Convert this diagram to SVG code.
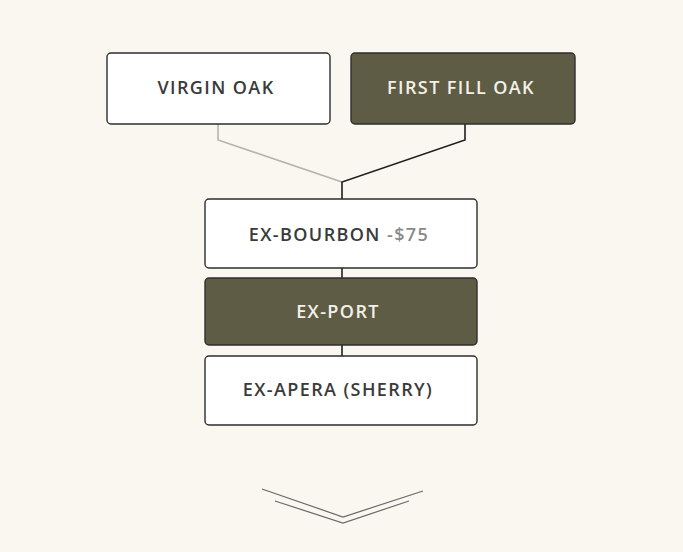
<svg xmlns="http://www.w3.org/2000/svg" width="683" height="552" viewBox="0 0 683 552">
<style>
.box{stroke:#2e2e2e;stroke-width:1.4}
.light{fill:#ffffff}
.dark{fill:#5f5c45}
.t{font-family:"Open Sans","Liberation Sans",sans-serif;font-weight:600;font-size:18px;letter-spacing:1.4px;text-anchor:middle;dominant-baseline:central}
.tl{fill:#3a3a3a}
.td{fill:#f3f1e8}
.price{fill:#8a8a8a}
.conn{fill:none;stroke-width:1.6}
</style>
<rect width="683" height="552" fill="#faf7f1"/>
<g id="connectors">
<polyline class="conn" stroke="#b5b3ad" points="218,124 218,140 342,182"/>
<polyline class="conn" stroke="#1e1e1e" points="465,124 465,140 342,182 342,199"/>
<line class="conn" stroke="#1e1e1e" x1="342" y1="268" x2="342" y2="278"/>
<line class="conn" stroke="#1e1e1e" x1="342" y1="345" x2="342" y2="356"/>
</g>
<g id="virgin-oak">
<rect class="box light" x="107" y="53" width="223" height="71" rx="4"/>
<text class="t tl" x="216" y="87">VIRGIN OAK</text>
</g>
<g id="first-fill-oak">
<rect class="box dark" x="351" y="53" width="224" height="71" rx="4"/>
<text class="t td" x="461" y="87">FIRST FILL OAK</text>
</g>
<g id="ex-bourbon">
<rect class="box light" x="205" y="199" width="272" height="69" rx="4"/>
<text class="t tl" x="339" y="234">EX-BOURBON <tspan class="price">-$75</tspan></text>
</g>
<g id="ex-port">
<rect class="box dark" x="205" y="278" width="272" height="67" rx="4"/>
<text class="t td" x="338" y="311">EX-PORT</text>
</g>
<g id="ex-apera">
<rect class="box light" x="205" y="356" width="272" height="69" rx="4"/>
<text class="t tl" x="338" y="389">EX-APERA (SHERRY)</text>
</g>
<g id="chevron" fill="none" stroke="#6a6a6a" stroke-width="1.2">
<polyline points="262,489 343,517 423,491"/>
<polyline points="275,501 343,523 409,501"/>
</g>
</svg>
